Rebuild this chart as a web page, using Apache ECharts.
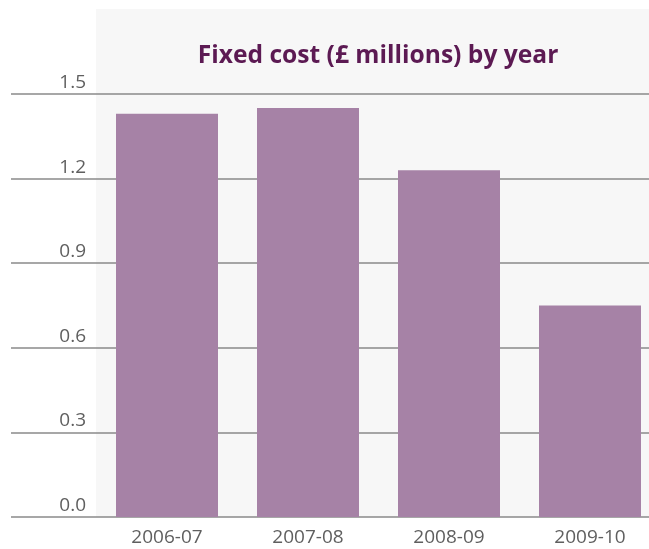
<!DOCTYPE html>
<html>
<head>
<meta charset="utf-8">
<script src="https://cdn.jsdelivr.net/npm/echarts@6/dist/echarts.min.js"></script>
<style>
    html, body { margin: 0; padding: 0; background: #fff; }
    #main { width: 649px; height: 549px; }
</style>
</head>
<body>
<div id="main"></div>
<script>
var years = ['2006-07', '2007-08', '2008-09', '2009-10'];
var fixedCost = [1.43, 1.45, 1.23, 0.75];
var yTicks = [0, 0.3, 0.6, 0.9, 1.2, 1.5];

var chart = echarts.init(document.getElementById('main'));

var option = {
    backgroundColor: '#fff',
    // light grey panel behind the bars
    graphic: [{
        type: 'rect',
        z: -10,
        shape: { x: 96, y: 9, width: 553, height: 508 },
        style: { fill: '#f7f7f7' }
    }],
    title: {
        text: 'Fixed cost (£ millions) by year',
        left: 373,
        textAlign: 'center',
        top: 38,
        textStyle: {
            color: '#5c1a53',
            fontFamily: 'Open Sans',
            fontWeight: 'bold',
            fontSize: 24.6
        }
    },
    grid: [
        // grid 0: full width grid lines + y labels
        { left: 11, right: 0, top: 94, bottom: 32 },
        // grid 1: bars (runs a bit past the right edge)
        { left: 96.5, width: 564, top: 94, bottom: 32, outerBoundsMode: 'none', containLabel: false }
    ],
    xAxis: [
        { type: 'category', gridIndex: 0, data: years, show: false },
        {
            type: 'category',
            gridIndex: 1,
            data: years,
            axisLine: { show: false },
            axisTick: { show: false },
            axisLabel: {
                color: '#5f5f5f',
                fontFamily: 'Open Sans',
                fontSize: 19,
                margin: 11
            }
        }
    ],
    yAxis: [
        {
            type: 'value',
            gridIndex: 0,
            min: 0,
            max: yTicks[yTicks.length - 1],
            interval: 0.3,
            axisLine: { show: false },
            axisTick: { show: false },
            splitLine: { lineStyle: { color: '#8a8a8a', width: 1.5 } },
            axisLabel: {
                inside: true,
                align: 'right',
                verticalAlign: 'bottom',
                margin: 75,
                padding: [0, 0, 2, 0],
                color: '#5f5f5f',
                fontFamily: 'Open Sans',
                fontSize: 19,
                formatter: function (v) { return v.toFixed(1); }
            }
        },
        {
            type: 'value',
            gridIndex: 1,
            min: 0,
            max: yTicks[yTicks.length - 1],
            interval: 0.3,
            show: false
        }
    ],
    series: [
        {
            type: 'bar',
            xAxisIndex: 1,
            yAxisIndex: 1,
            data: fixedCost,
            barWidth: 102,
            itemStyle: { color: '#a682a6' },
            z: 3
        }
    ]
};

chart.setOption(option);
</script>
</body>
</html>
